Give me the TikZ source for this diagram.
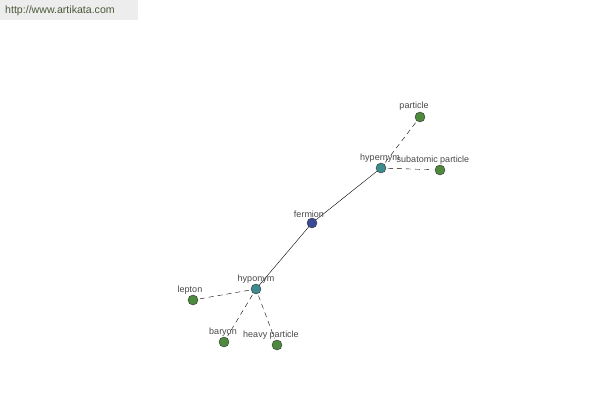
\documentclass[tikz,border=0pt]{standalone}
\usepackage{fontspec}
\setmainfont{Liberation Sans}
\definecolor{leafgreen}{HTML}{4E8A3E}
\definecolor{relteal}{HTML}{3E8A8C}
\definecolor{rootblue}{HTML}{3A4A96}
\definecolor{labelgray}{HTML}{484848}
\definecolor{siteolive}{HTML}{4A5A3A}

\begin{document}
\begin{tikzpicture}[x=1pt,y=-1pt,
    dot/.style={circle,draw=black!80,thin,minimum size=10pt,inner sep=0pt},
    word/.style={font=\fontsize{9}{10}\selectfont,text=labelgray,anchor=south,inner sep=0pt},
    rel/.style={thin,dash pattern=on 5pt off 4pt,shorten <=7pt,shorten >=7pt}]
      \useasboundingbox (0,0) rectangle (600,400);
      \fill[black!7] (0,0) rectangle (138,20);
      \node[font=\fontsize{10.6}{12}\selectfont,text=siteolive,anchor=west,inner sep=0pt] (site) at (5,11) {http://www.artikata.com};

      \node[dot,fill=rootblue] (fermion) at (312,223) {};
      \node[dot,fill=relteal] (hypernym) at (381,168) {};
      \node[dot,fill=relteal] (hyponym) at (256,289) {};
      \foreach \n/\x/\y in {particle/420/117,subatomic/440/170,lepton/193/300,baryon/224/342,heavy/277/345} {
        \node[dot,fill=leafgreen] (\n) at (\x,\y) {};
      }

      \draw[thin] (fermion) -- (hypernym);
      \draw[thin] (fermion) -- (hyponym);
      \foreach \n in {particle,subatomic} {
        \draw[rel] (hypernym.center) -- (\n.center);
      }
      \foreach \n in {lepton,baryon,heavy} {
        \draw[rel] (hyponym.center) -- (\n.center);
      }

      \node[word] (fermion-l) at (309,218) {fermion};
      \node[word] (hypernym-l) at (380,163) {hypernym};
      \node[word] (hyponym-l) at (256,284) {hyponym};
      \node[word] (particle-l) at (414,111) {particle};
      \node[word] (subatomic-l) at (433,165) {subatomic particle};
      \node[word] (lepton-l) at (190,295) {lepton};
      \node[word] (baryon-l) at (223,337) {baryon};
      \node[word] (heavy-l) at (271,340) {heavy particle};
    \end{tikzpicture}
\end{document}
